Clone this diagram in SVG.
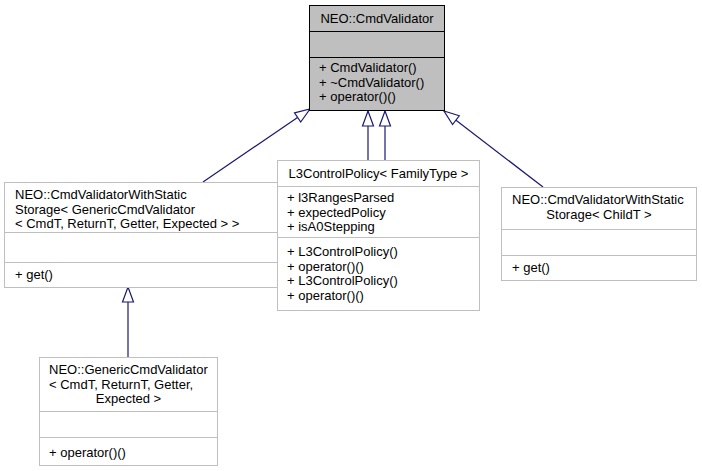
<svg xmlns="http://www.w3.org/2000/svg" width="702" height="471" viewBox="0 0 702 471">
<style>
text{font-family:"Liberation Sans",Arial,Helvetica,sans-serif;font-size:13px;fill:#000}
.c{text-anchor:middle}
.box{fill:#fff;stroke:#bfbfbf;stroke-width:1}
.sep{stroke:#bfbfbf;stroke-width:1}
.top{fill:#bfbfbf;stroke:#000;stroke-width:1}
.tsep{stroke:#000;stroke-width:1}
.edge{fill:none;stroke:#191970;stroke-width:1.2}
</style>
<defs>
<marker id="arr" markerWidth="17" markerHeight="13" refX="16" refY="6.5" orient="auto" markerUnits="userSpaceOnUse" overflow="visible">
<path d="M1,1 L16,6.5 L1,12 Z" fill="#fff" stroke="#191970" stroke-width="1.2"/>
</marker>
</defs>
<rect width="702" height="471" fill="#fff"/>
<g id="edges">
<line class="edge" x1="203" y1="182" x2="310" y2="109" marker-end="url(#arr)"/>
<line class="edge" x1="368" y1="160" x2="368" y2="111" marker-end="url(#arr)"/>
<line class="edge" x1="385" y1="160" x2="385" y2="111" marker-end="url(#arr)"/>
<line class="edge" x1="543" y1="187" x2="444" y2="111" marker-end="url(#arr)"/>
<line class="edge" x1="128" y1="357" x2="128" y2="287" marker-end="url(#arr)"/>
</g>
<g id="CmdValidator">
<rect class="top" x="309.5" y="5.5" width="135" height="105"/>
<line class="tsep" x1="309.5" y1="31.5" x2="444.5" y2="31.5"/>
<line class="tsep" x1="309.5" y1="57.5" x2="444.5" y2="57.5"/>
<text class="c" x="377" y="23">NEO::CmdValidator</text>
<text x="319" y="72">+ CmdValidator()</text>
<text x="319" y="86.5">+ ~CmdValidator()</text>
<text x="319" y="101">+ operator()()</text>
</g>
<g id="WithStaticGeneric">
<rect class="box" x="4.5" y="182.5" width="279" height="105"/>
<line class="sep" x1="4.5" y1="232.5" x2="283.5" y2="232.5"/>
<line class="sep" x1="4.5" y1="262.5" x2="283.5" y2="262.5"/>
<text x="15" y="199">NEO::CmdValidatorWithStatic</text>
<text x="15" y="213.5">Storage&lt; GenericCmdValidator</text>
<text x="15" y="228">&lt; CmdT, ReturnT, Getter, Expected &gt; &gt;</text>
<text x="15" y="279">+ get()</text>
</g>
<g id="L3ControlPolicy">
<rect class="box" x="277.5" y="160.5" width="202" height="150"/>
<line class="sep" x1="277.5" y1="186.5" x2="479.5" y2="186.5"/>
<line class="sep" x1="277.5" y1="237.5" x2="479.5" y2="237.5"/>
<text class="c" x="378.5" y="178">L3ControlPolicy&lt; FamilyType &gt;</text>
<text x="287" y="202">+ l3RangesParsed</text>
<text x="287" y="216.5">+ expectedPolicy</text>
<text x="287" y="231">+ isA0Stepping</text>
<text x="287" y="256">+ L3ControlPolicy()</text>
<text x="287" y="270.5">+ operator()()</text>
<text x="287" y="285">+ L3ControlPolicy()</text>
<text x="287" y="299.5">+ operator()()</text>
</g>
<g id="WithStaticChild">
<rect class="box" x="501.5" y="187.5" width="195" height="93"/>
<line class="sep" x1="501.5" y1="229.5" x2="696.5" y2="229.5"/>
<line class="sep" x1="501.5" y1="255.5" x2="696.5" y2="255.5"/>
<text x="512" y="204">NEO::CmdValidatorWithStatic</text>
<text class="c" x="599" y="218.5">Storage&lt; ChildT &gt;</text>
<text x="512" y="272">+ get()</text>
</g>
<g id="GenericCmdValidator">
<rect class="box" x="39.5" y="357.5" width="178" height="108"/>
<line class="sep" x1="39.5" y1="411.5" x2="217.5" y2="411.5"/>
<line class="sep" x1="39.5" y1="437.5" x2="217.5" y2="437.5"/>
<text x="49" y="374">NEO::GenericCmdValidator</text>
<text x="49" y="388.5">&lt; CmdT, ReturnT, Getter,</text>
<text class="c" x="128.5" y="403">Expected &gt;</text>
<text x="49" y="457">+ operator()()</text>
</g>
</svg>
